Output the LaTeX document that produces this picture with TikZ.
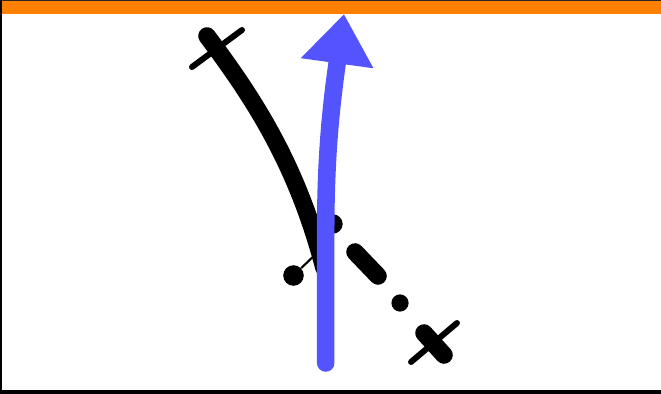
\documentclass[tikz,border=0pt]{standalone}
\usetikzlibrary{arrows.meta}
\tikzset{
    thick track/.style={line width=10pt, line cap=round},
    tick/.style={line width=3.4pt, line cap=round},
    blob/.style={circle, fill=black, inner sep=0pt, minimum size=#1},
}
\definecolor{topbar}{RGB}{255,128,0}
\definecolor{bluearrow}{RGB}{84,84,255}

\begin{document}
\begin{tikzpicture}[x=0.02cm, y=-0.02cm]
    \useasboundingbox (0,0) rectangle (661,394);

    % Frame
    \fill[white] (0,0) rectangle (661,394);
    \fill[topbar] (0,0) rectangle (661,14.5);
    \fill[black!85] (0,0) rectangle (661,1);
    \fill[black] (0,0) rectangle (2,394);
    \fill[black] (0,390) rectangle (661,394);

    % Ends of the solid track
    \coordinate (trackA) at (207,36);
    \coordinate (trackB) at (324,268);
    \coordinate (tickA1) at (192,67);
    \coordinate (tickA2) at (242,30);
    \coordinate (trackC) at (424,333);
    \coordinate (trackD) at (444,355);
    \coordinate (tickB1) at (411,362);
    \coordinate (tickB2) at (457,323);

    % Dots
    \node[blob=11.7pt] (dot0) at (293.5,275.5) {};
    \node[blob=11pt] (dot1) at (333,224) {};
    \node[blob=9.8pt] (dot2) at (400,303) {};
    \coordinate (dot0end) at (318,252);
    \coordinate (dashA) at (355,252);
    \coordinate (dashB) at (378,276);

    % Track
    \draw[thick track] (trackA) .. controls (255,100) and (297,165) .. (trackB);
    \draw[thick track] (dashA) -- (dashB);
    \draw[thick track] (trackC) -- (trackD);

    % Ticks
    \draw[tick] (tickA1) -- (tickA2);
    \draw[tick] (tickB1) -- (tickB2);
    \draw[line width=1.2pt] (dot0) -- (dot0end);

    % Arrow
    \coordinate (arrowS) at (325.7,363);
    \coordinate (arrowM) at (325.7,230);
    \coordinate (arrowT) at (344,14);
    \draw[bluearrow, line width=10pt, line cap=round, -{Triangle[length=28.3pt, width=39.8pt]}]
        (arrowS) -- (arrowM) .. controls (325.7,150) and (332,100) .. (arrowT);
\end{tikzpicture}
\end{document}
